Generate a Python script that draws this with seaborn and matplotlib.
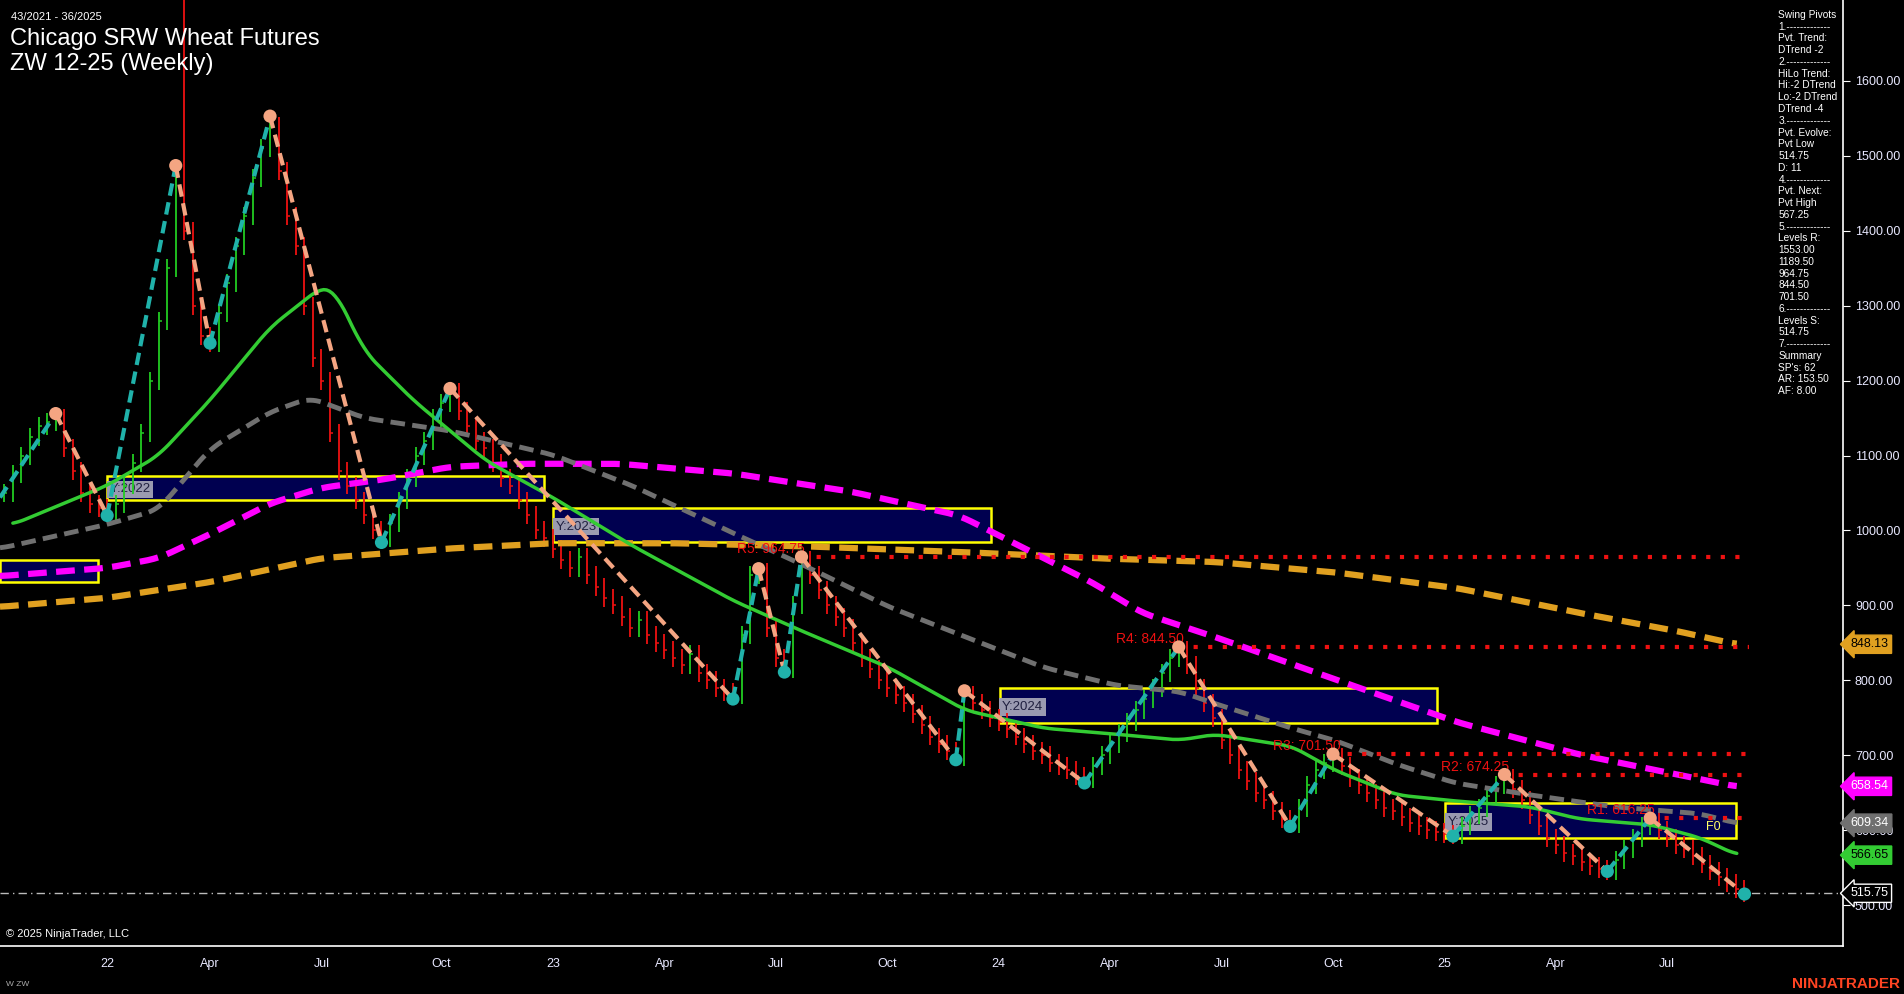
import numpy as np
import pandas as pd
import matplotlib
matplotlib.use("Agg")
import matplotlib.pyplot as plt
from matplotlib.patches import Rectangle
import seaborn as sns

sns.set_style("dark")
plt.rcParams['font.family'] = ['Liberation Sans', 'DejaVu Sans']

# ---- data (weeks relative to first week of 2022) ----
start_week = -12
closes = [1050,1075,1100,1125,1140,1145,1150,1110,1080,1050,1035,1030,
          1025,1035,1060,1090,1130,1200,1280,1350,1480,1400,1300,1260,
          1250,1290,1330,1380,1420,1470,1510,1540,
          1480,1420,1380,1300,1230,1200,1130,1080,1060,1040,1020,1000,990,
          1010,1040,1070,1100,1120,1150,1170,1185,
          1160,1140,1120,1110,1090,1070,1060,1040,1020,1000,990,975,960,950,965,940,925,910,900,885,
          870,880,860,850,840,830,820,835,810,800,790,785,780,
          860,940,945,870,830,815,900,960,
          940,920,900,885,870,850,830,815,800,790,780,770,755,740,725,715,705,698,
          780,770,760,750,745,735,725,715,705,700,690,685,680,672,668,
          685,700,715,730,745,760,775,790,810,830,840,
          820,790,770,750,720,700,680,665,650,640,625,615,608,
          630,660,680,690,698,
          685,670,660,650,640,630,625,618,610,605,600,598,595,594,
          605,620,630,645,660,670,
          655,640,620,605,590,580,570,565,558,552,548,546,
          560,575,590,605,612,
          600,590,580,575,565,555,545,538,530,522,516]
spike_week, spike_high = 9, 1708

green_x = [-11,0,6,12,19,25,26.5,30,35.7,44.2,52,61.2,73.1,81,91.2,100.1,109.3,117.8,125.1,129.2,138.2,143.2,150.4,157.2,166,171.7,180.2,185.8,190.1]
green_y = [1008,1060,1100,1174,1271,1325,1322,1239,1174,1093,1044,980,906,866,817,760,736,728,720,728,712,680,647,639,631,615,607,590,567]
gray_x = [-12.5,0,6,12,19,23.7,30,40,52,61.2,73.1,81,91.2,100.1,109.3,117.8,125.1,129.2,138.2,143.2,150.4,157.2,166,175.9,185.8,190.1]
gray_y = [976,1008,1028,1109,1158,1177,1150,1133,1101,1060,996,955,898,858,817,793,785,769,736,720,688,663,647,631,622,609]
mag_x = [-12.5,0,6,12,19,25,32.2,40,48.4,59.8,73.1,86.7,99.4,107.9,115,120.7,129.2,143.3,157.5,171.7,190.1]
mag_y = [939,950,963,995,1036,1057,1068,1085,1089,1089,1076,1052,1020,971,930,890,858,801,744,701,658]
org_x = [-12.5,0,12,25,40,52,66.1,81,100.1,115,129.2,143.3,157.5,171.7,183,190.1]
org_y = [898,910,931,963,976,983,983,979,971,963,958,944,923,890,866,848]

piv_w = [-12.5,-6,0,8,12,19,32,40,73,76,79,81,99,100,114,125,138,143,157,163,175,180,191]
piv_p = [1044,1156,1020,1487,1250,1553,984,1189.5,775,949,811,964.75,694,786,663,844.5,605,701.5,592,674.25,545,616,514.75]
piv_t = ['L','H','L','H','L','H','L','H','L','H','L','H','L','H','L','H','L','H','L','H','L','H','L']

box_years = ['', 'Y:2022', 'Y:2023', 'Y:2024', 'Y:2025']
box_x0 = [-12.5, 0, 52, 104.1, 156.1]
box_x1 = [-1.1, 51, 103.1, 155.1, 190]
box_lo = [931, 1041, 984, 743, 590]
box_hi = [960, 1073, 1030, 790, 636]

res_names = ['R5', 'R4', 'R3', 'R2', 'R1']
res_vals = [964.75, 844.50, 701.50, 674.25, 616.25]
res_start = [81, 125, 143, 163, 180]
res_lbl_x = [73.5, 117.7, 136, 155.6, 172.6]
support = 515.75

tick_pos = [0,12,25,39,52,65,78,91,104,117,130,143,156,169,182]
tick_lbl = ['22','Apr','Jul','Oct','23','Apr','Jul','Oct','24','Apr','Jul','Oct','25','Apr','Jul']

badges = [(848.13,'#e0a020','black'),(658.54,'#ff00ff','white'),(609.34,'#707070','white'),
          (566.65,'#33cc33','black'),(515.75,'black','white')]


def smooth(xs, ys, win=9):
    gx = np.linspace(xs[0], xs[-1], 600)
    gy = np.interp(gx, xs, ys)
    pad = win // 2
    gp = np.concatenate([np.full(pad, gy[0]), gy, np.full(pad, gy[-1])])
    k = np.ones(win) / win
    return gx, np.convolve(gp, k, mode='valid')


# ---- figure ----
fig = plt.figure(figsize=(19.04, 9.94), dpi=100, facecolor='black')
ax = fig.add_axes([0.0, 0.048, 0.968, 0.952])
ax.set_facecolor('black')
ax.set_xlim(-12.5, 202.5)
ax.set_ylim(445, 1708)

weeks = np.arange(start_week, start_week + len(closes))
opens = [closes[0]] + closes[:-1]
for w, o, c in zip(weeks, opens, closes):
    col = '#22cc22' if c >= o else '#ee1111'
    hi = max(o, c) + 12
    lo = min(o, c) - 12
    if w == spike_week:
        hi = spike_high
    ax.vlines(w, lo, hi, color=col, lw=1.3, zorder=3)
    ax.hlines(c, w, w + 0.35, color=col, lw=1.1, zorder=3)

for nm, x0, x1, lo, hi in zip(box_years, box_x0, box_x1, box_lo, box_hi):
    ax.add_patch(Rectangle((x0, lo), x1 - x0, hi - lo, facecolor='#000050', edgecolor='#ffff00', lw=1.8, zorder=1))
    if nm:
        ax.text(x0 + 0.3, (lo + hi) / 2 - 2, nm, color='#202040', fontsize=9.5, va='center', zorder=2,
                bbox=dict(boxstyle='square,pad=0.2', fc='#9a9ab0', ec='none'))

dash = (0, (3, 1.5))
for xs, ys, col, lw, ls, z in [(org_x, org_y, '#e0a020', 4.5, dash, 4),
                               (mag_x, mag_y, '#ff00ff', 4.5, dash, 4),
                               (gray_x, gray_y, '#707070', 3.5, dash, 4),
                               (green_x, green_y, '#33cc33', 2.5, '-', 5)]:
    sx, sy = smooth(xs, ys)
    sns.lineplot(x=sx, y=sy, ax=ax, color=col, lw=lw, zorder=z, sort=False)
    ax.lines[-1].set_linestyle(ls)

for nm, v, s, lx in zip(res_names, res_vals, res_start, res_lbl_x):
    ax.hlines(v, s, 191.5, color='#ee1111', lw=3, linestyles=(0, (1, 2.5)), zorder=4)
    ax.text(lx, v + 5, f'{nm}: {v:.2f}', color='#ee1111', fontsize=10, zorder=6)
ax.text(186.5, 604, 'F0', color='#ffff66', fontsize=9, va='center', zorder=6)
ax.axhline(support, color='#bbbbbb', lw=1, ls=(0, (6, 3, 1, 3)), zorder=2)

for i in range(len(piv_w) - 1):
    col = '#20b2aa' if piv_t[i] == 'L' else '#f4a582'
    ax.plot(piv_w[i:i+2], piv_p[i:i+2], color=col, lw=3, ls=(0, (3, 1.6)), zorder=6)
for w, p, t in zip(piv_w[1:], piv_p[1:], piv_t[1:]):
    ax.scatter(w, p, s=90, color='#f4a582' if t == 'H' else '#20b2aa', zorder=7, edgecolors='none')

ax.set_xticks(tick_pos)
ax.set_xticklabels(tick_lbl)
ax.set_yticks(np.arange(500, 1700, 100))
ax.set_yticklabels([f'{v:.2f}' for v in np.arange(500, 1700, 100)])
ax.yaxis.tick_right()
ax.tick_params(axis='both', colors='white', labelcolor='#e8e8ff', labelsize=9, length=5, direction='out')
for s in ['top', 'left']:
    ax.spines[s].set_visible(False)
for s in ['bottom', 'right']:
    ax.spines[s].set_color('white')
    ax.spines[s].set_linewidth(1.2)
ax.grid(False)
ax.set_xlabel(''); ax.set_ylabel('')

for v, fc, tc in badges:
    ax.annotate(f'{v:.2f}', xy=(1.004, v), xycoords=('axes fraction', 'data'), color=tc, fontsize=9,
                va='center', ha='left', annotation_clip=False, zorder=10,
                bbox=dict(boxstyle='larrow,pad=0.25', fc=fc, ec='white' if fc == 'black' else fc))

fig.text(0.006, 0.988, '43/2021 - 36/2025', color='white', fontsize=8, va='top')
fig.text(0.005, 0.972, 'Chicago SRW Wheat Futures', color='white', fontsize=17, va='top')
fig.text(0.005, 0.947, 'ZW 12-25 (Weekly)', color='white', fontsize=17, va='top')
fig.text(0.003, 0.06, '© 2025 NinjaTrader, LLC', color='white', fontsize=8, va='center')
fig.text(0.003, 0.01, 'W ZW', color='#aaaaaa', fontsize=6, va='center')
fig.text(0.998, 0.01, 'NINJATRADER', color='#ff4422', fontsize=11, weight='bold', ha='right', va='center')
panel = ("Swing Pivots\n1.-------------\nPvt. Trend:\nDTrend -2\n2.-------------\nHiLo Trend:\nHi:-2 DTrend\n"
         "Lo:-2 DTrend\nDTrend -4\n3.-------------\nPvt. Evolve:\nPvt Low\n514.75\nD: 11\n4.-------------\n"
         "Pvt. Next:\nPvt High\n567.25\n5.-------------\nLevels R:\n1553.00\n1189.50\n964.75\n844.50\n701.50\n"
         "6.-------------\nLevels S:\n514.75\n7.-------------\nSummary\nSP's: 62\nAR: 153.50\nAF: 8.00")
fig.text(0.934, 0.99, panel, color='white', fontsize=7.3, va='top', linespacing=1.22)

fig.savefig('out.png', dpi=100, facecolor='black')
